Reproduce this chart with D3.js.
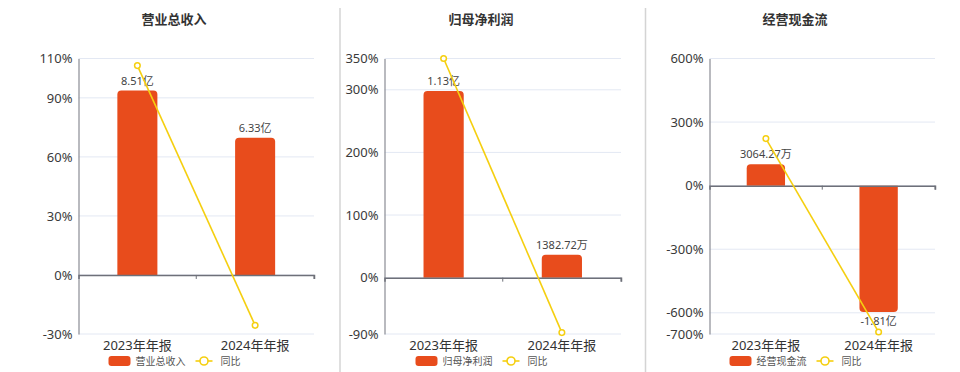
<!DOCTYPE html>
<html><head><meta charset="utf-8">
<script src="https://cdn.jsdelivr.net/npm/d3@7"></script>
<style>
html,body{margin:0;padding:0;background:#fff;}
svg{display:block;font-family:"Noto Sans","Noto Sans CJK SC",sans-serif;}
</style></head>
<body><svg id="c" width="960" height="372"></svg>
<script>
// ---- data ----
const categories = ["2023年年报", "2024年年报"];
const titles = ["营业总收入", "归母净利润", "经营现金流"];
// bar values in 亿元
const revenue = [8.51, 6.33];
const netProfit = [1.13, 0.138272];
const cashFlow = [0.306427, -1.81];
// bar labels
const revenueLabels = ["8.51亿", "6.33亿"];
const netProfitLabels = ["1.13亿", "1382.72万"];
const cashFlowLabels = ["3064.27万", "-1.81亿"];
// yoy (%)
const revenueYoy = [106.4, -25.6];
const netProfitYoy = [350, -87.8];
const cashFlowYoy = [222, -690.7];
// y-axis ticks (%)
const revenueTicks = [-30, 0, 30, 60, 90, 110];
const netProfitTicks = [-90, 0, 100, 200, 300, 350];
const cashFlowTicks = [-700, -600, -300, 0, 300, 600];
const legendYoy = "同比";

// ---- layout ----
const panels = [
  {title: titles[0], bars: revenue, labels: revenueLabels, yoy: revenueYoy, ticks: revenueTicks,
   x0: 78.5, x1: 314, titleX: 174},
  {title: titles[1], bars: netProfit, labels: netProfitLabels, yoy: netProfitYoy, ticks: netProfitTicks,
   x0: 384.5, x1: 621, titleX: 481},
  {title: titles[2], bars: cashFlow, labels: cashFlowLabels, yoy: cashFlowYoy, ticks: cashFlowTicks,
   x0: 709.5, x1: 935, titleX: 795}
];
const plotTop = 58.5, plotBottom = 334;
const barColor = "#E84C1C", lineColor = "#F5CF10";
const svg = d3.select("#c");

// dividers
[340, 645.5].forEach(x => svg.append("line").attr("x1", x).attr("x2", x).attr("y1", 8).attr("y2", 372)
  .attr("stroke", "#d4d4d4").attr("stroke-width", 1.5));

function barPath(x, w, y0, y1, r) {
  const h = Math.abs(y1 - y0);
  r = Math.min(r, h, w / 2);
  if (y1 <= y0) {
    return `M${x},${y0}V${y1 + r}Q${x},${y1} ${x + r},${y1}H${x + w - r}Q${x + w},${y1} ${x + w},${y1 + r}V${y0}Z`;
  } else {
    return `M${x},${y0}V${y1 - r}Q${x},${y1} ${x + r},${y1}H${x + w - r}Q${x + w},${y1} ${x + w},${y1 - r}V${y0}Z`;
  }
}

panels.forEach(p => {
  const g = svg.append("g");
  const ext = d3.extent(p.ticks);
  const y = d3.scaleLinear().domain(ext).range([plotBottom, plotTop]);
  const x = d3.scaleBand().domain(categories).range([p.x0, p.x1]);
  const zero = y(0);
  const maxIdx = d3.maxIndex(p.bars, v => Math.abs(v));
  const mv = p.bars[maxIdx];
  const dist = mv >= 0 ? zero - plotTop : plotBottom - zero;
  const k = 0.852 * dist / Math.abs(mv);
  const yb = d3.scaleLinear().domain([-(plotBottom - zero) / k, (zero - plotTop) / k]).range([plotBottom, plotTop]);

  g.append("text").attr("x", p.titleX).attr("y", 24).attr("text-anchor", "middle")
    .attr("font-size", 13).attr("font-weight", "bold").attr("fill", "#333").text(p.title);

  g.selectAll(".grid").data(p.ticks).enter().append("line")
    .attr("x1", p.x0).attr("x2", p.x1).attr("y1", d => y(d)).attr("y2", d => y(d))
    .attr("stroke", "#E3E8F3").attr("stroke-width", 1);

  const ya = d3.axisLeft(y).tickValues(p.ticks).tickSize(0).tickPadding(6).tickFormat(d => d + "%");
  const yg = g.append("g").attr("transform", `translate(${p.x0},0)`).call(ya);
  yg.select(".domain").attr("stroke", "#8a8c94").attr("stroke-width", 1.2);
  yg.selectAll("text").attr("font-size", 13).attr("fill", "#3a3a3a")
    .attr("font-family", '"Noto Sans","Noto Sans CJK SC",sans-serif');

  const bw = x.bandwidth() * 0.34;
  g.selectAll(".bar").data(p.bars).enter().append("path")
    .attr("d", (d, i) => {
      const cx = x(categories[i]) + x.bandwidth() / 2;
      return barPath(cx - bw / 2, bw, yb(0), yb(d), 4);
    }).attr("fill", barColor);

  const xa = d3.axisBottom(x).tickSize(4).tickFormat("");
  const xg = g.append("g").attr("transform", `translate(0,${zero})`).call(xa);
  xg.select(".domain").attr("stroke", "#6E7079").attr("stroke-width", 1.5);
  xg.selectAll(".tick line").attr("stroke", "#6E7079").attr("transform", `translate(${x.bandwidth() / 2},0)`);
  xg.append("line").attr("x1", p.x1).attr("x2", p.x1).attr("y1", 0).attr("y2", 4).attr("stroke", "#6E7079");
  xg.selectAll(".tick").filter((d, i) => i === categories.length - 1).select("line").remove();

  g.selectAll(".cat").data(categories).enter().append("text")
    .attr("x", d => x(d) + x.bandwidth() / 2).attr("y", 350).attr("text-anchor", "middle")
    .attr("font-size", 13).attr("fill", "#333").text(d => d);

  g.selectAll(".vl").data(p.bars).enter().append("text")
    .attr("x", (d, i) => x(categories[i]) + x.bandwidth() / 2)
    .attr("y", d => d >= 0 ? yb(d) - 6 : yb(d) + 13)
    .attr("text-anchor", "middle").attr("font-size", 11).attr("fill", "#444")
    .text((d, i) => p.labels[i]);

  const line = d3.line().x((d, i) => x(categories[i]) + x.bandwidth() / 2).y(d => y(d));
  g.append("path").datum(p.yoy).attr("d", line).attr("fill", "none")
    .attr("stroke", lineColor).attr("stroke-width", 1.6);
  g.selectAll(".pt").data(p.yoy).enter().append("circle")
    .attr("cx", (d, i) => x(categories[i]) + x.bandwidth() / 2).attr("cy", d => y(d)).attr("r", 2.8)
    .attr("fill", "#fff").attr("stroke", lineColor).attr("stroke-width", 1.5);

  const lg = g.append("g");
  lg.append("rect").attr("x", 0).attr("y", -5).attr("width", 22).attr("height", 10).attr("rx", 3).attr("fill", barColor);
  const t1 = lg.append("text").attr("x", 27).attr("y", 3.5).attr("font-size", 10).attr("fill", "#555").text(p.title);
  const w1 = t1.node().getComputedTextLength();
  const lx = 27 + w1 + 10;
  lg.append("line").attr("x1", lx).attr("x2", lx + 17).attr("y1", 0).attr("y2", 0).attr("stroke", lineColor).attr("stroke-width", 1.6);
  lg.append("circle").attr("cx", lx + 8.5).attr("cy", 0).attr("r", 4).attr("fill", "#fff").attr("stroke", lineColor).attr("stroke-width", 1.6);
  lg.append("text").attr("x", lx + 25).attr("y", 3.5).attr("font-size", 10).attr("fill", "#555").text(legendYoy);
  lg.attr("transform", `translate(${p.titleX - 65.5},361)`);
});
</script></body></html>
